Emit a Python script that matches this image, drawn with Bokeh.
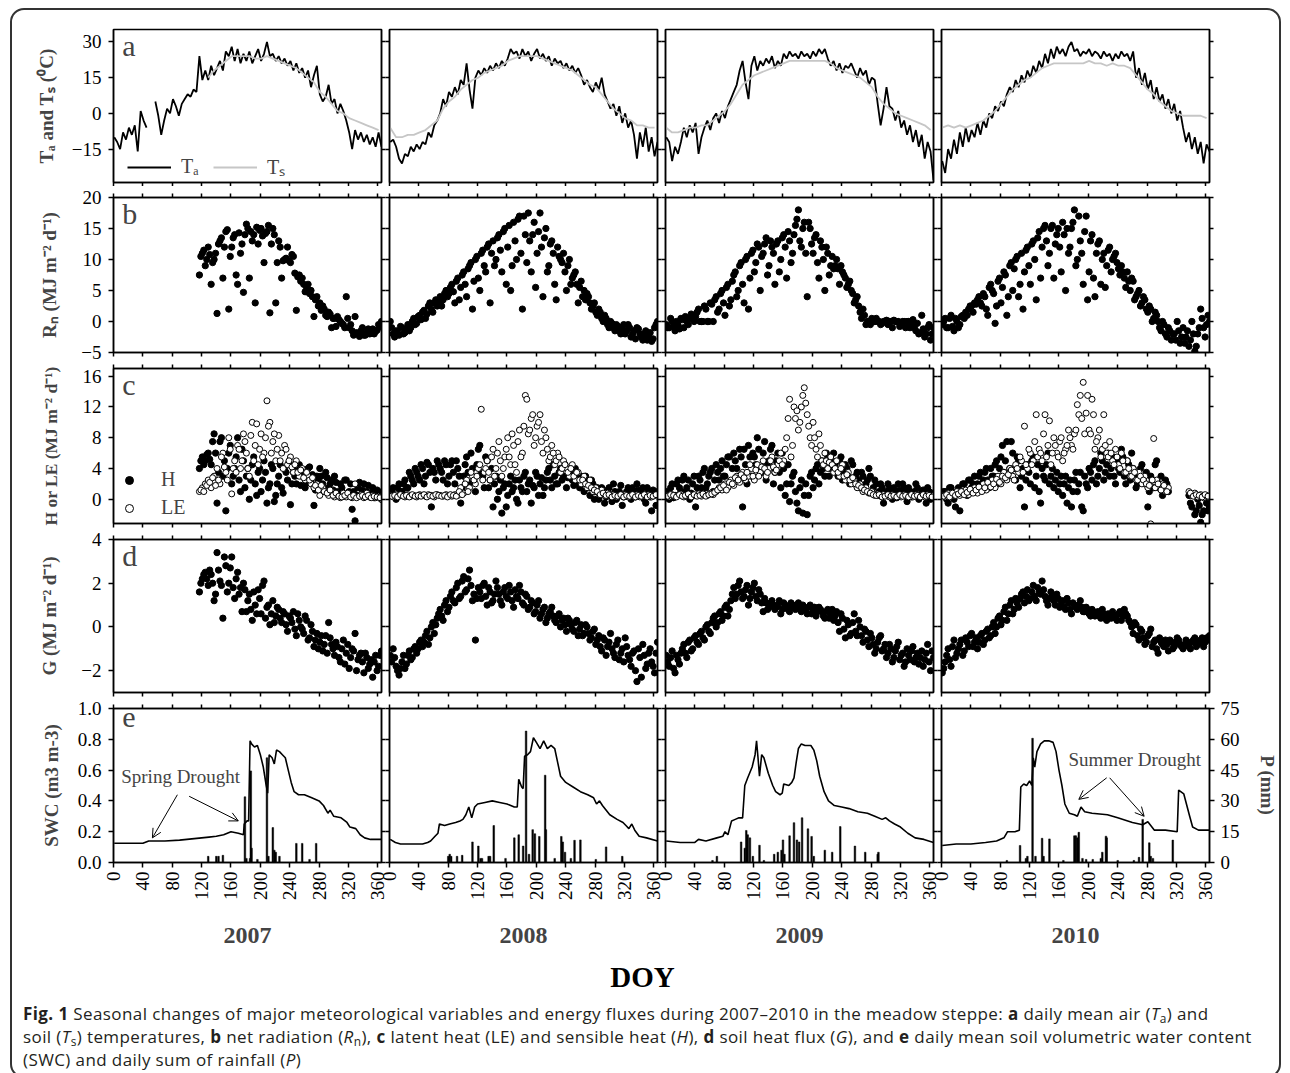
import math
from bokeh.plotting import figure
from bokeh.models import (Range1d, LinearAxis, FixedTicker, Label, Legend, LegendItem,
                          Arrow, OpenHead, Div, NumeralTickFormatter)
from bokeh.layouts import column, row
from bokeh.embed import file_html
from bokeh.resources import INLINE

nan = float("nan")
YEARS = ["2007", "2008", "2009", "2010"]
DOY_TICKS = [0, 40, 80, 120, 160, 200, 240, 280, 320, 360]
P_TICKS = [0, 15, 30, 45, 60, 75]

# ---- daily mean air temperature Ta (deg C), sampled every 4 days from DOY 1 ----
ta_2007 = [-10, -12, -15, -8, -11, -6, -9, -5, -16, 1, -3, -6, nan, nan, 5, -1, -9, -3, 2, 0,
           6, 3, -1, 4, 6, 8, 7, 10, 9, 24, 14, 18, 14, 20, 16, 19, 22, 18, 26, 24,
           28, 22, 27, 21, 25, 22, 26, 21, 24, 27, 22, 25, 30, 24, 25, 22, 24, 21, 23, 20,
           22, 18, 21, 17, 19, 15, 18, 11, 16, 20, 8, 5, 7, 12, 4, 6, 0, 4, 1, -3,
           -8, -15, -7, -11, -8, -12, -9, -13, -10, -14, -8, -14]
ta_2008 = [-12, -11, -14, -19, -21, -17, -18, -14, -16, -13, -15, -12, -13, -8, -10, -5, -3, 0, 6, 3,
           9, 7, 11, 8, 14, 12, 21, 10, 2, 15, 18, 16, 19, 17, 20, 18, 21, 19, 22, 20,
           23, 27, 25, 26, 23, 27, 24, 26, 22, 25, 27, 23, 25, 22, 24, 20, 23, 21, 22, 19,
           21, 18, 20, 17, 19, 16, 12, 14, 11, 9, 13, 10, 15, 8, 5, 2, 4, -1, 3, -4,
           0, -6, -3, -9, -19, -8, -14, -6, -16, -10, -18, -12]
ta_2009 = [-10, -12, -20, -14, -17, -12, -6, -10, -5, -8, -4, -17, -10, -6, -3, -7, -2, 0, -4, 1,
           -2, 3, 6, 9, 12, 18, 22, 13, 6, 20, 24, 18, 22, 20, 23, 21, 24, 19, 22, 20,
           25, 23, 26, 24, 25, 23, 26, 24, 25, 23, 26, 24, 27, 25, 27, 23, 20, 22, 18, 21,
           17, 20, 19, 21, 18, 15, 19, 16, 18, 12, 15, 14, 4, -5, 2, 11, 3, 2, -3, 1,
           -6, -3, -9, -5, -12, -7, -14, -9, -19, -12, -16, -28]
ta_2010 = [-20, -25, -15, -19, -11, -17, -8, -14, -6, -12, -7, -10, -4, -9, -3, -6, 0, -2, 3, 1,
           5, 3, 8, 11, 9, 14, 11, 16, 13, 18, 15, 20, 17, 22, 19, 25, 21, 27, 23, 28,
           25, 27, 24, 28, 30, 26, 27, 24, 26, 25, 27, 24, 26, 25, 23, 26, 24, 25, 22, 25,
           23, 26, 24, 25, 22, 26, 15, 19, 12, 17, 10, 14, 6, 11, 5, 8, 2, 6, 0, 4,
           -3, 1, -6, -12, -8, -15, -10, -17, -12, -21, -13, -16]

# ---- daily mean soil temperature Ts (deg C), sampled every 8 days from DOY 1 ----
ts_2007 = [nan] * 16 + [15, 18, 20, 22, 24, 24, 24, 24, 23, 23, 24, 23, 22, 21, 20, 19, 17, 15, 13, 9,
                        7, 4, 1, 0, -2, -3, -4, -5, -6, -7]
ts_2008 = [-6, -10, -10, -9, -9, -8, -7, -5, -3, 2, 5, 7, 10, 12, 14, 15, 17, 18, 19, 20,
           22, 23, 24, 24, 24, 24, 23, 22, 21, 20, 19, 18, 16, 14, 12, 11, 8, 5, 2, 0,
           -2, -3, -5, -5, -6, -6]
ts_2009 = [-6, -8, -8, -7, -6, -6, -5, -5, -3, -1, 1, 4, 8, 12, 14, 16, 17, 18, 19, 20,
           21, 22, 22, 22, 22, 22, 22, 22, 21, 19, 18, 17, 16, 15, 13, 11, 7, 4, 2, 0,
           -1, -2, -3, -4, -5, -7]
ts_2010 = [-6, -5, -6, -5, -6, -5, -4, -3, -1, 1, 4, 7, 10, 12, 14, 15, 17, 19, 20, 21,
           21, 21, 21, 21, 21, 22, 21, 21, 20, 21, 20, 20, 19, 16, 13, 10, 8, 5, 3, 1,
           0, -1, -1, -1, -1, -2]

# ---- fluxes (MJ m-2 d-1). Set "a": every 4 days from FLUX_START; set "b": offset by 2 days ----
FLUX_START = [117, 1, 1, 1]
rn_2007 = [7.5, 11, 9, 12, 6, 10, 1.3, 13, 7, 14.5, 2, 12, 14, 6, 11, 4.7, 15.7, 7, 13, 3,
           12.5, 15, 9.5, 14.5, 1.4, 15, 3, 13, 7, 10, 12, 9.5, 10.5, 1.8, 7.5, 7, 4.8, 6, 5, 0.8,
           4, 3, 2.5, 1, 1.5, -1, 0.5, 0.8, 0, -0.5, 4, -1, -1.5, 0.8, -2, -1.5, -2.2, -1.8, -2, -1.2,
           -1.6, -0.5, 0]
rn_2008 = [0, -2, -1.5, -2.2, -1, -1.8, -0.5, -1, 0.5, -0.3, 1, 1.5, 0.5, 2.5, 2, 3, 2.5, 4, 3.5, 5,
           4.5, 6, 3, 7, 5.5, 8, 4, 9, 2, 10, 7, 11, 9, 12, 3, 13, 10, 14, 8, 15,
           12, 5, 16, 10, 17, 2, 14, 17.5, 8, 16, 11, 17.5, 4, 15, 9, 13, 6, 12, 10, 11,
           5, 10, 7, 8, 3, 6.5, 5, 4.5, 3, 2.5, 1.5, 2, 0.5, 1, -0.5, 0, -1, -0.5, -1.5, -1,
           -2, -0.5, -2.5, -1.5, -1, -2, -3, -1.5, -2.5, -3.2, -1, 0]
rn_2009 = [-0.5, -1, 0, -1.5, -0.5, 0.5, -1, 0, 0.5, 1, 0.8, 2, 0, 2.5, 0, 3, 0, 4, 2, 5,
           1, 6, 3.5, 7.5, 4, 9, 6, 10, 2, 11, 8, 12.5, 5, 11, 13.5, 9, 12, 6, 13, 10,
           14, 7, 13, 11, 15.5, 18, 12, 16, 4, 15, 11, 14, 7, 12, 5, 11, 9, 8.5, 10, 6,
           8, 7, 6, 5, 3, 4, 1.5, 2, -0.5, 0, 0.5, 0, 0, -0.5, 0, 0.2, 0, -1, 0, 0,
           -0.5, 0, 0, -1, 0.3, -1.5, -2, 1, -2.5, -1, -3, -1]
rn_2010 = [-0.5, 0.5, -1, 1, -1.5, 0, -0.5, 1, 1.5, 2, 2.5, 3, 3.5, 3, 4.5, 2, 5.5, 5, -0.3, 6.5,
           3, 8, 1, 9, 5, 10, 4, 11, 8, 12, 6, 13, 3.5, 14.5, 12, 15.5, 9, 15, 7, 14,
           12, 16, 5, 11, 15, 18, 10, 13, 6, 17, 8, 14, 4, 12.5, 6, 11, 9, 12, 10, 11,
           8.5, 9, 7, 8, 5, 6.5, 4, 5, 3, 3.5, 1.5, 2, 0.5, 1, -1, 0, -2, -1, -3, -2,
           0, -3.5, -1, -2.5, -4, 0, -4.8, -2, 2, -1, -0.5, 0]
rnb_2007 = [10.5, 11.5, 10, 10.8, 9.5, 11, 12.5, 13.5, 12, 14.8, 10.5, 13.5, 7.5, 14.3, 12.5, 14, 15, 14.5, 14, 15.2,
            14.7, 13.8, 14.2, 15.5, 12.5, 14, 9.5, 12, 9.8, 10.2, 9.8, 10.8, 7.8, 7.2, 6.5, 6, 5.5, 4.5, 4, 3.5,
            2.5, 1.8, 2, 0.8, 1.2, 0.5, -0.8, 0.3, -0.3, -1, 0.5, -0.5, -2.2, -1.8, -2.4, -1, -2.2, -1.2, -1.8, -2,
            -1.4, -0.8]
rnb_2008 = [-1, -2.5, -1.8, -0.8, -2, -1.2, -1.5, 0, -0.5, 0.8, 0.3, 1.8, 1.2, 3, 1.5, 3.5, 3.2, 2.5, 4.5, 4,
            5.5, 4.8, 6.5, 3.5, 7.5, 6, 8.5, 9.5, 6.5, 10.5, 5, 11.5, 8, 12.5, 11, 9, 13.5, 11.5, 14.5, 6,
            15.5, 9, 13, 16.5, 11, 17, 9.5, 13, 14, 5.5, 14.5, 12, 13.5, 8, 12.5, 11, 3.5, 10.5, 9.5, 8,
            9, 6, 7.5, 6, 5.5, 4, 3.5, 4, 2, 3, 1, 1.5, 0, 0.5, -1, -0.3, -1.5, -0.8, -2, -0.5,
            -1.5, -1, -2, -2.8, -1.2, -2.5, -2, -3, -1.8, -2.8, -0.5]
rnb_2009 = [-1, 0.5, -0.8, 0, -1.2, 0.3, 0.8, -0.5, 1.2, 0, 1.5, 0, 0, 2, 0, 2.8, 3.5, 1.5, 4.5, 3,
            5.5, 2.5, 6.5, 8, 5, 9.5, 3, 10.5, 7, 11.5, 9.5, 12, 10.5, 12.5, 7.5, 13, 11, 12.5, 8, 13.5,
            12, 14.5, 9.5, 14, 16.5, 13, 15, 11, 16, 12.5, 13.5, 9.5, 13, 10, 12, 7.5, 10.5, 9, 8.5, 9,
            7.5, 5.5, 6.5, 4.5, 3.5, 2.5, 0.5, 1, 0, -0.5, 0, 0.5, 0, -0.3, 0, -0.5, 0, 0.2, 0, -0.8,
            0, -1, 0, -0.5, -1, -0.3, -1.8, -1.2, -2, -0.5, -2]
rnb_2010 = [0, -1, 0.5, -0.8, 0.5, -1, 0.8, 0.5, 1, 2.5, 1.5, 2.8, 4, 2.5, 4, 1, 6, 4.5, 2.5, 7,
            5.5, 7.5, 4, 9.5, 8.5, 10.5, 6, 2, 11.5, 9, 12.5, 10, 13.5, 7, 15, 13, 11, 15.5, 12.5, 15,
            8, 14, 15, 12, 16, 9, 17, 11, 14.5, 3.5, 13, 7, 11, 13, 10, 5.5, 11.5, 8, 10.5, 9.5,
            7.5, 8, 5.5, 6.5, 7, 3.5, 4.5, 2.5, 4, 2, 2.5, 0, 1.5, 0, -1.5, -0.5, -2.5, -1.5, -2, -3,
            -1.5, -2.5, -3.5, -1.5, -3, -2, -4, -1, 0.5, -2.5, 1]
h_2007 = [4, 5.5, 5, 6, 4.5, 8.5, -0.5, 7.5, 3, -1.5, 6, 2, 4, 8, 1, 5, 3, 0, 4.5, 2,
          3.5, 1, 5, -0.5, 2, 4, 0.5, 3, 1.5, 4, 2.5, -0.7, 3.5, 2, 4.5, 3, 1.5, 4, 2.5, -0.8,
          3, 4, 2, 3.5, 1.5, 2.5, 3, 1, 2, 0.5, 2.5, 1, -1.3, -2.8, 1.5, 0.5, 2, 1, 0.3, 1.5,
          0.5, 1, 0]
le_2007 = [1, 1.5, 2, 2.5, 1.5, 3, 4, 2, 6, 3.5, 8, 0.7, 5, 7, 4, 8.5, 6, 3, 10, 7,
           4.5, 8.5, 6, 12.8, 10, 7.5, 5, 8.3, 6, 7, 4.5, 5.5, 3.5, 5, 3, 4, 2.5, 3, 2, 1.5,
           2, 0.5, 1.5, 1, 0.5, 1, 0.3, 0.5, 0.2, 0.8, 0.3, 0.5, 0.2, 2, 0.3, 0.6, 0.2, 0.8, 0.3, 0.5,
           0.2, 0.4, 0]
h_2008 = [0.5, 1.5, 0, 2, 1, 2.5, 1.5, 3, 2, 3.5, 2.5, 4, 3, 4.5, -1, 3.5, 5, 4, 2.5, 4.5,
          3, 5, 2, 4, -0.5, 3, 5.5, 2, 4, 1, 6.5, 3.5, 1.5, 5, 2.5, -1, 3, 1, -1.8, 2,
          0.5, 3, 1.5, 0, 2.5, 1, 3.5, 2, -0.5, 1.5, 3, 2, 0.5, 2.5, 4, 1.5, 3, 2, 4, 3,
          1.5, 3.5, 2.5, 4, 2, 3, 1, 2.5, 0.5, 2, 1, 0, 1.5, -0.5, 1, 0.5, 2, 0, 1, -0.8,
          0.5, 1.5, 0, 1, 2, 0.5, 1.5, -0.5, 1, -1.5, 0.5, 1]
le_2008 = [0.5, 0.3, 0.6, 0.4, 0.5, 0.3, 0.6, 0.4, 0.5, 0.3, 0.6, 0.5, 0.4, 0.6, 0.5, 0.3, 0.6, 0.5, 0.4, 0.6,
           0.5, 0.4, 0.6, 0.5, 1.5, 0.8, 2.5, 1.5, 3, 2, 4, 11.7, 3.5, 5, 2.5, 6.5, 4, 7.5, 3, 5.5,
           8, 4.5, 7, 3.5, 9, 6, 13.5, 8.5, 10.5, 7, 9.5, 11, 6, 8, 5, 7, 4.5, 6, 3.5, 5,
           4, 3, 4.5, 2.5, 3.5, 2, 3, 1.5, 2.5, 1, 1.5, 0.8, 1.2, 0.5, 0.8, 0.4, 0.6, 0.3, 0.5, 0.4,
           0.6, 0.3, 0.5, 0.4, 0.6, 0.3, 0.5, 0.4, 0.6, 0.3, 0.5, 0.4]
h_2009 = [1, 0, 2, 0.5, 2.5, 1, 3, 1.5, 0, 2, -1, 3, 1.5, 4, 2, 3.5, 1, 4.5, 2.5, 5,
          3, 5.5, 2, 6, 4, 6.5, -1, 4.5, 7, 3, 5.5, 8, 4, 6, 2.5, 5, 7, 3.5, 6, 1.5,
          4, 2, -0.3, 3, 1, -1.5, 2.5, 0.5, -2, 3, 1.5, 4, 2, 5, 3, 5.5, 4, 6, 3.5, 5,
          2.5, 4.5, 3, 5, 2, 3.5, 1.5, 3, 2, 4, 1, 2.5, 0.5, 2, -0.5, 1, 1.5, 0, 1, 2,
          0.5, 1.5, -0.3, 1, 0.5, 2, 0, 1, 0.5, 1.5, 0, 0.5]
le_2009 = [0.5, 0.3, 0.6, 0.4, 0.5, 0.7, 0.3, 0.5, 0.6, 0.4, 0.5, 0.7, 0.4, 0.6, 0.5, 0.8, 0.6, 1, 1.5, 1.2,
           2, 1.5, 2.5, 1.8, 3, 2.2, 3.5, 2.5, 3, 4, 2.5, 4.5, 3.5, 5, 3, 4, 5.5, 3.5, 4.5, 6,
           5, 8, 13, 7, 10.5, 9, 12, 14.5, 11, 8, 10, 6.5, 8.5, 5, 6, 4, 5.5, 3.5, 5, 3,
           4.5, 2.5, 3.5, 2, 2.5, 1.5, 2, 1, 1.5, 0.8, 1, 0.5, 0.7, 0.4, 0.6, 0.5, 0.3, 0.6, 0.4, 0.5,
           0.3, 0.6, 0.4, 0.5, 0.3, 0.6, 0.4, 0.5, 0.3, 0.6, 0.4, 0.5]
h_2010 = [0.5, 1, -0.5, 1.5, 0, 1, -1.5, 2, 1, 2.5, 1.5, 3, 2, 3.5, 2.5, 4, 1.5, 3, 4.5, 2,
          5.5, 3.5, 7.5, 4, 6, 2.5, 5, 3, -1, 4.5, 2, 5.5, 3, 1, 4, 2.5, 6, 3, 1.5, 3.5,
          2, 0.5, 3, 1.5, -1, 2.5, 1, 3.5, -1.5, 2, 4, 2.5, 5, 3, 6, 2.5, 4.5, 3, 5.5, 2,
          4, 6.5, 3, 5, 2.5, 4, 1.5, 3, 4.5, 2, -1, 3, 1.5, 5, 2, 0.5, 2.5, 1, nan, nan,
          nan, nan, nan, nan, 0.5, -1, -2, 0, -3, -1.5, -0.5, -1]
le_2010 = [0.5, 0.3, 0.8, 0.4, 0.6, 1, 0.5, 0.8, 1.2, 0.6, 1, 1.5, 0.8, 1.3, 2, 1.2, 1.8, 2.5, 1.5, 3,
           2, 3.5, 2.5, 4, 3, 4.5, 3.5, 5, 9.5, 4, 6, 5, 11, 6.5, 5, 11, 7, 4.5, 8, 6,
           7.5, 5, 6.5, 9, 7, 8.5, 12.3, 13.5, 15.2, 11.2, 9, 13, 6.5, 8, 5.5, 11, 6, 7.5, 5, 6.5,
           4.5, 6, 3.5, 5, 3, 4, 2.5, 3.5, 2, 3, 1.5, -3.2, 7.9, 2.5, 1.5, 2, 1, 1.5, nan, nan,
           nan, nan, nan, nan, 1, 0.5, 0.8, 0.3, 0.6, 0.2, 0.5, 0.3]
hb_2007 = [5, 4.5, 5.8, 5.2, 7.5, 6, 3.5, 8, 5, 4, 7, 3, 5.5, 2.5, 6.5, 1.5, 4, 2.5, 5.5, 0.5,
           4, 2.5, 3.5, 1.5, 4.5, -0.3, 2, 4.5, 0.8, 3.5, 4.8, 2, 3, 4, 1.8, 3.5, 2.2, 4.2, 3.2, 1.2,
           2.5, 3, 1, 2.8, 2, 1.2, 2.2, 0.5, 1.5, 2.5, 0.8, 2, 1, 0.5, 2.2, 1.2, 0.5, 1.8, 0.8, 0.2,
           1.2, 0.5]
leb_2007 = [1.2, 1, 1.8, 2.2, 2.8, 1.8, 2.5, 5.5, 4.2, 2.5, 6.5, 4, 3.5, 6.5, 5, 7.5, 4, 8.3, 5, 9.8,
            6.5, 5.5, 8, 9.5, 6, 8.5, 6.5, 5, 4, 6.5, 5, 4.2, 4.5, 3.5, 3.8, 2.8, 3.5, 2.5, 2.8, 1.8,
            1.2, 1.8, 1, 0.8, 1.2, 0.5, 0.8, 0.4, 0.3, 0.5, 0.8, 0.3, 0.5, 0.2, 0.4, 0.5, 0.3, 0.5, 0.2, 0.4,
            0.3, 0.2]
hb_2008 = [1, 0.5, 1.5, 1, 2, 1.5, 3.5, 2.5, 4, 3, 4.5, 2, 4.8, 3.5, 4, 2.5, 4.5, 3.5, 5, 2,
           4.5, 3.5, 5, 3, 1.5, 4.5, 3.5, 6, 2.5, 4.5, 7, 3, 5.5, 1.5, 4, 2, 0, 2.5, 1.5, -1,
           2, 1, 2.5, -0.5, 1.5, 3, 1, 2.5, 1.8, 3.5, 0.5, 2.8, 1.5, 3.5, 2.5, 4.5, 2, 3.5, 2.5, 4.5,
           2.8, 3.5, 1.8, 3.2, 1.5, 2, 3, 1.5, 2.5, 0, 1.5, 0.5, 1.2, 0.3, 1.5, -0.3, 1, 0.5, 1.8, 0.3,
           1, 0.8, 1.5, 0.3, 1.2, 0.8, 0, 1.5, 0.3, 1.2, -0.8]
leb_2008 = [0.4, 0.5, 0.3, 0.6, 0.4, 0.5, 0.3, 0.6, 0.4, 0.5, 0.4, 0.6, 0.3, 0.5, 0.4, 0.6, 0.5, 0.4, 0.5, 0.3,
            0.6, 0.5, 0.4, 1, 0.6, 2, 1, 3.5, 2.5, 3, 4.5, 2.5, 4, 3.5, 5.5, 3, 6, 5, 4, 6.5,
            5.5, 8.5, 4.5, 7.5, 5.5, 9.5, 13, 9, 11, 8, 10, 7.5, 9, 6.5, 5.5, 6, 5, 5.5, 4, 4.5,
            3.5, 4, 3, 3.5, 2.5, 2.5, 2, 1.8, 1.5, 1.2, 1, 0.6, 0.8, 0.5, 0.6, 0.3, 0.5, 0.4, 0.6, 0.3,
            0.5, 0.4, 0.6, 0.3, 0.5, 0.4, 0.6, 0.3, 0.5, 0.4, 0.6]
hb_2009 = [0.5, 1.5, 0.2, 2, 1.5, 2.5, 1, 2.5, 0.8, 3, 1.5, 2.5, 3.5, 1.5, 3, 4, 2.5, 3.5, 4, 3,
           4.5, 5.5, 4, 5, 3, 5.5, 6.5, 2, 5.5, 6, 4.5, 6.5, 3.5, 7.5, 4.5, 6.5, 2, 5, 3.5, 6,
           0.5, 4.5, 2, 3.5, -0.5, 1.5, -1.8, 2, 0.5, 3.5, 2.5, 4.5, 3.5, 4, 6, 3, 5, 4.5, 3, 5.5,
           3.5, 4, 2, 4.5, 3, 2.5, 3.5, 1.5, 2.5, 3, 1.5, 2, 1, 1.5, 0.5, 2, 0.8, 1.5, 0.2, 1.2,
           2, 0.8, 1.5, 0.3, 1, 1.5, 0.5, 1.2, -0.5, 1, 0.8]
leb_2009 = [0.4, 0.6, 0.5, 0.3, 0.6, 0.4, 0.5, 0.7, 0.3, 0.6, 0.4, 0.5, 0.7, 0.4, 0.6, 0.7, 0.9, 1.2, 1.5, 1.8,
            1.2, 2.2, 2, 2.8, 2.5, 3.2, 2.8, 3.5, 4.5, 3, 3.8, 3, 4.2, 4, 3.5, 5, 4.2, 3.8, 5, 4.5,
            6.5, 10.5, 5.5, 12, 11.5, 10, 13.5, 12.5, 9.5, 7, 8, 5.5, 7, 4.5, 5, 4.8, 4.5, 4, 3.5, 4,
            3, 3.2, 2.5, 2.8, 2, 1.8, 1.5, 1.2, 1, 0.8, 0.6, 0.5, 0.6, 0.3, 0.4, 0.6, 0.4, 0.5, 0.3, 0.6,
            0.4, 0.5, 0.3, 0.6, 0.4, 0.5, 0.3, 0.6, 0.4, 0.5, 0.3]
hb_2010 = [1, 0, 1.5, 0.5, -1, 1.5, 1, 2, 0.5, 2.5, 2, 1.5, 3, 2, 3.5, 2.5, 4, 3, 5, 4,
           7, 5, 3, 7.5, 4, 5.5, 1.5, 4, 2.5, 3.5, 5, 1.5, 4.5, -0.5, 3, 4.5, 2, 4, 2.5, 1,
           3, 2, -0.5, 2.5, 1, 3.5, 2, -1, 3, 1.5, 3.5, 4.5, 2, 4, 5, 3.5, 6, 4, 3, 5,
           3.5, 5.5, 2, 4.5, 6, 3, 2, 4, 2.5, 3.5, 1, 2.5, 4.5, 1.5, 3, 1, 2, nan, nan, nan,
           nan, nan, nan, nan, -0.5, 0.5, -1.5, -0.8, -2, 0.3, -1.5]
leb_2010 = [0.4, 0.6, 0.3, 0.8, 0.5, 0.7, 1, 0.6, 0.9, 1.3, 0.8, 1.2, 1.6, 1, 1.5, 2.2, 1.6, 2, 2.6, 2.2,
            3, 2.8, 3.2, 3.8, 2.5, 4, 5.5, 3.5, 4.5, 6.5, 4.5, 7.5, 5.5, 6, 8.5, 5.5, 10.2, 6, 7, 5.5,
            8, 6, 7, 8, 6.5, 9, 11, 10.5, 8.5, 13.5, 8.5, 11, 7.5, 9, 6.5, 7, 5.5, 6, 4.5, 5.5,
            4, 5, 3.5, 4, 3, 3.5, 2.5, 3, 2.5, 2, 1.8, 2.5, 1.5, 2, 1.2, 1.8, 1, nan, nan, nan,
            nan, nan, nan, nan, 0.8, 0.4, 0.6, 0.5, 0.3, 0.6, 0.4]
g_2007 = [1.6, 2.2, 2.5, 1.9, 2.4, 1.2, 3.4, 2.1, 0.4, 2.8, 2.0, 3.2, 1.3, 2.5, 1.8, 2.0, 0.7, 1.5, 0.3, 1.0,
          1.7, 0.6, 2.1, 0.9, 0.1, 1.2, 0.5, 0.8, 0.2, 0.6, -0.2, 0.4, 0.7, -0.4, 0.3, -0.1, 0.5, -0.6, 0.1, -0.9,
          -0.3, -0.7, -1.1, -0.4, 0.2, -0.8, -1.3, -0.9, -1.6, -0.6, -1.2, -1.9, -1.0, -0.3, -1.5, -1.2, -2.1, -1.4, -1.7, -2.3,
          -1.3, -1.8, -1.1]
g_2008 = [-1.3, -1.0, -1.8, -2.2, -1.6, -1.9, -1.3, -1.5, -1.0, -1.2, -0.7, -0.9, -0.4, -0.8, 0.0, -0.3, 0.4, 0.8, 0.3, 1.2,
          0.9, 1.6, 1.1, 2.0, 1.4, 2.3, 1.7, 2.6, 1.2, -0.6, 1.8, 1.3, 2.0, 1.0, 1.6, 1.2, 2.1, 1.5, 1.0, 1.8,
          1.3, 1.6, 0.9, 1.4, 1.9, 1.1, 1.5, 0.8, 1.2, 0.6, 1.0, 0.4, 0.8, 0.2, 0.6, 0.9, 0.3, 0.5, 0.0, 0.4,
          -0.2, 0.3, -0.1, 0.2, -0.4, 0.1, -0.3, 0.0, -0.6, -0.2, -0.8, -0.4, -1.1, -0.6, -0.9, -0.3, -1.2, -0.8, -1.5, -1.0,
          -0.5, -1.3, -1.8, -1.1, -2.5, -1.4, -0.8, -1.9, -1.2, -1.6, -2.1, -0.7]
g_2009 = [-1.3, -1.8, -1.1, -2.1, -1.5, -1.2, -0.8, -1.4, -0.6, -1.0, -0.4, -0.8, -0.2, -0.6, 0.1, -0.3, 0.4, 0.0, 0.6, 0.3,
          0.9, 0.5, 1.2, 1.8, 1.5, 2.1, 1.3, 1.7, 1.0, 1.6, 2.0, 1.2, 1.5, 0.7, 1.1, 0.9, 1.2, 0.8, 1.0, 0.6,
          1.1, 0.9, 0.7, 1.0, 0.8, 1.1, 0.7, 0.9, 0.6, 1.0, 0.8, 0.5, 0.9, 0.7, 0.4, 0.8, 0.6, 0.3, 0.7, -0.2,
          0.4, -0.5, 0.1, -0.3, 0.6, -0.4, 0.0, -0.7, -0.2, -0.9, -0.5, -1.2, -0.7, -0.4, -1.0, -1.4, -0.8, -1.6, -1.1, -0.7,
          -1.3, -1.8, -1.0, -1.5, -0.9, -1.4, -1.7, -1.1, -1.5, -0.8, -2.0, -1.4]
g_2010 = [-2.1, -1.6, -1.0, -1.8, -0.6, -1.2, -0.8, -1.3, -0.5, -0.9, -0.3, -0.7, -1.0, -0.4, -0.8, -0.2, -0.5, 0.0, -0.3, 0.4,
          0.1, 0.7, 0.3, 1.0, 0.6, 1.3, 0.9, 1.5, 1.1, 1.7, 1.3, 1.9, 1.2, 1.6, 2.1, 1.4, 1.0, 1.6, 1.2, 1.5,
          0.9, 1.2, 0.8, 1.1, 0.6, 1.0, 0.8, 1.2, 0.7, 0.9, 0.6, 0.8, 0.5, 0.7, 0.4, 0.6, 0.3, 0.5, 0.7, 0.4,
          0.6, 0.3, 0.8, 0.5, 0.2, -0.3, 0.1, -0.6, -0.2, -0.8, -0.4, -0.1, -0.7, -1.0, -0.5, -0.8, -0.6, -1.1, -0.7, -0.9,
          -0.5, -0.8, -1.0, -0.6, -0.9, -0.7, -0.5, -0.8, -0.6, -0.9, -0.5, -0.4]
gb_2007 = [2, 2.4, 2.2, 2.6, 2, 1.5, 2.6, 1.9, 3.2, 1.6, 2.7, 1.8, 2.2, 1.5, 0.7, 1.7, 1.2, 0.8, 1.6, 0.6,
           1.3, 1.9, 0.4, 1, 0.6, 0.2, 0.9, 0.4, 0.7, 0.1, 0.5, 0.2, -0.1, 0.6, 0, -0.3, 0.3, -0.5, -0.2, -0.6,
           -1, -0.4, -0.8, -1.2, -0.5, -1, -0.7, -1.4, -1, -1.7, -0.8, -1.4, -1.1, -2, -1.3, -1.6, -1.2, -1.9, -1.5, -1.6,
           -2, -1.3]
gb_2008 = [-1.6, -1.4, -2, -1.9, -1.3, -1.7, -1.1, -1.4, -0.9, -1, -0.6, -0.7, -0.2, -0.5, 0.2, 0.1, 0.6, 0.5, 1, 0.7,
           1.4, 1.2, 1.8, 1.3, 2.1, 1.6, 2.2, 1.9, 1.5, 1.3, 1.6, 1.9, 1.4, 1.8, 1.1, 1.5, 1.8, 1.2, 1.6, 1.4,
           1.9, 1.2, 1.7, 1.3, 1.6, 1, 1.4, 0.9, 1.1, 0.7, 1.2, 0.6, 0.9, 0.4, 0.7, 0.5, 0.2, 0.6, 0.3, 0.1,
           0.4, 0.1, -0.2, 0.3, -0.1, -0.4, 0.1, -0.3, -0.5, -0.1, -0.6, -0.9, -0.5, -1.3, -0.7, -1, -1.4, -0.6, -1.2, -1.6,
           -0.9, -1.5, -1.2, -2, -1, -2.3, -1.3, -1.7, -1, -1.8, -1.2]
gb_2009 = [-1.6, -1.4, -1.9, -1.3, -1.7, -1, -1.2, -0.7, -1.1, -0.5, -0.7, -0.3, -0.5, 0, -0.2, 0.2, 0.5, 0.2, 0.7, 0.5,
           1, 0.8, 1.5, 1.3, 1.9, 1.6, 1.4, 1.9, 1.3, 1.8, 1.4, 1.7, 1.1, 1.3, 0.8, 1.1, 1, 0.9, 1.2, 0.8,
           1, 0.8, 1.1, 0.9, 1, 0.8, 1, 0.8, 0.9, 0.6, 0.9, 0.7, 0.8, 0.5, 0.7, 0.4, 0.8, 0.5, 0.2, 0.6,
           -0.1, 0.3, -0.4, 0.2, -0.2, 0.3, -0.4, -0.1, -0.6, -0.3, -0.8, -1, -0.5, -1.1, -0.8, -1.2, -1, -1.4, -0.9, -1.5,
           -1.2, -1.6, -1.3, -1.1, -1.6, -1.2, -1.4, -1.8, -1.2, -1.6, -1.1]
gb_2010 = [-1.9, -1.3, -1.5, -0.9, -1.4, -1, -0.6, -1.1, -0.7, -0.4, -0.9, -0.5, -0.7, -0.3, -0.6, -0.1, -0.4, 0.2, 0, 0.5,
           0.3, 0.9, 0.6, 1.2, 0.8, 1.1, 1.3, 1.6, 1.4, 1.2, 1.6, 1.4, 1.8, 1.5, 1.7, 1.2, 1.3, 1.4, 1, 1.3,
           1.1, 0.9, 1.3, 0.8, 1.1, 0.9, 1, 0.9, 0.7, 0.8, 0.5, 0.7, 0.6, 0.5, 0.8, 0.4, 0.6, 0.4, 0.5, 0.3,
           0.7, 0.5, 0.6, 0.3, 0, 0.2, -0.4, -0.1, -0.5, -0.7, -0.3, -0.9, -0.6, -1.2, -0.7, -0.9, -0.8, -0.6, -1, -0.7,
           -0.6, -0.9, -0.8, -0.7, -1, -0.6, -0.9, -0.7, -0.5, -0.7, -0.6]

# ---- soil water content (m3 m-3): (DOY, value) ----
swc_2007 = [(1, 0.125), (20, 0.125), (40, 0.125), (48, 0.14), (70, 0.14), (90, 0.145), (100, 0.15), (120, 0.16),
            (130, 0.165), (140, 0.17), (150, 0.18), (160, 0.2), (170, 0.19), (177, 0.18), (178, 0.25), (182, 0.27),
            (184, 0.27), (186, 0.79), (188, 0.77), (192, 0.75), (196, 0.76), (200, 0.70), (204, 0.62), (208, 0.50),
            (210, 0.45), (212, 0.70), (216, 0.68), (219, 0.64), (222, 0.73), (226, 0.72), (230, 0.70), (234, 0.68),
            (238, 0.60), (242, 0.52), (246, 0.46), (252, 0.44), (260, 0.44), (270, 0.42), (280, 0.40), (286, 0.37),
            (292, 0.32), (295, 0.34), (300, 0.30), (310, 0.29), (318, 0.26), (322, 0.23), (330, 0.22), (336, 0.18),
            (342, 0.16), (350, 0.15), (365, 0.15)]
swc_2008 = [(1, 0.15), (8, 0.13), (15, 0.12), (30, 0.12), (45, 0.12), (52, 0.13), (56, 0.14), (62, 0.17),
            (66, 0.19), (68, 0.25), (75, 0.24), (82, 0.25), (90, 0.26), (96, 0.27), (100, 0.28), (104, 0.31),
            (108, 0.36), (112, 0.29), (116, 0.36), (120, 0.38), (130, 0.39), (140, 0.40), (150, 0.39), (160, 0.38),
            (170, 0.36), (174, 0.36), (176, 0.54), (180, 0.49), (182, 0.48), (184, 0.69), (188, 0.70), (192, 0.72),
            (196, 0.81), (200, 0.78), (205, 0.74), (210, 0.79), (215, 0.74), (220, 0.76), (225, 0.74), (229, 0.65),
            (233, 0.56), (240, 0.52), (250, 0.49), (260, 0.46), (270, 0.44), (278, 0.42), (282, 0.38), (286, 0.40),
            (290, 0.37), (300, 0.31), (310, 0.28), (318, 0.26), (322, 0.24), (326, 0.22), (330, 0.25), (334, 0.21),
            (340, 0.17), (350, 0.16), (365, 0.14)]
swc_2009 = [(1, 0.14), (20, 0.13), (40, 0.13), (45, 0.15), (55, 0.14), (70, 0.16), (78, 0.17), (81, 0.20),
            (85, 0.18), (90, 0.27), (95, 0.28), (100, 0.29), (105, 0.29), (108, 0.50), (112, 0.55), (118, 0.62),
            (122, 0.70), (124, 0.79), (126, 0.68), (128, 0.56), (131, 0.70), (134, 0.68), (140, 0.58), (146, 0.50),
            (150, 0.46), (156, 0.44), (159, 0.45), (161, 0.51), (168, 0.50), (172, 0.52), (175, 0.55), (178, 0.65),
            (181, 0.74), (185, 0.77), (190, 0.76), (198, 0.76), (202, 0.73), (206, 0.66), (210, 0.56), (216, 0.46),
            (222, 0.40), (230, 0.37), (240, 0.36), (250, 0.35), (262, 0.33), (275, 0.32), (285, 0.30), (295, 0.28),
            (300, 0.29), (305, 0.27), (312, 0.25), (320, 0.23), (330, 0.19), (340, 0.16), (352, 0.15), (365, 0.13)]
swc_2010 = [(1, 0.11), (20, 0.12), (40, 0.12), (60, 0.13), (75, 0.14), (85, 0.16), (90, 0.20), (100, 0.20),
            (106, 0.21), (108, 0.49), (112, 0.51), (116, 0.50), (120, 0.53), (123, 0.50), (125, 0.68), (127, 0.62),
            (130, 0.72), (135, 0.77), (140, 0.79), (146, 0.79), (152, 0.78), (156, 0.72), (160, 0.60), (164, 0.50),
            (168, 0.38), (174, 0.32), (181, 0.31), (185, 0.30), (190, 0.36), (195, 0.33), (205, 0.32), (226, 0.31),
            (240, 0.29), (260, 0.26), (274, 0.245), (281, 0.265), (290, 0.21), (305, 0.21), (321, 0.20), (323, 0.47),
            (330, 0.445), (338, 0.30), (342, 0.23), (350, 0.21), (365, 0.21)]

# ---- daily rainfall P (mm): (DOY, mm) ----
p_2007 = [(129, 3), (140, 3), (143, 3), (149, 3.5), (179, 32), (181, 2), (186, 2), (187, 44.6), (188, 7),
          (196, 1.5), (209, 51), (211, 3), (217, 17), (219, 6), (221, 5), (226, 3), (249, 9.3), (257, 9.3),
          (267, 1.5), (276, 9.3)]
p_2008 = [(80, 3), (82, 4), (84, 3), (92, 3), (99, 3.5), (113, 10), (121, 8), (124, 2), (126, 2), (135, 3),
          (137, 3), (142, 18), (158, 2), (170, 12), (176, 13.5), (182, 8), (186, 64), (190, 4), (195, 16),
          (198, 14), (204, 12.7), (212, 42.5), (213, 16), (225, 2), (234, 12.7), (236, 10), (239, 5), (247, 2),
          (252, 10.8), (260, 11), (281, 1.5), (295, 7.6), (317, 3)]
p_2009 = [(64, 1), (70, 3), (103, 10), (108, 7), (110, 15.6), (112, 13.5), (115, 12), (119, 3), (128, 8.4),
          (134, 1), (148, 4), (153, 5), (158, 6), (160, 11), (162, 4), (169, 13), (175, 19.4), (179, 11),
          (182, 10), (186, 21.8), (194, 16.4), (199, 12.7), (202, 3), (217, 6), (227, 5), (238, 17.5), (258, 8),
          (272, 5), (289, 4), (290, 5)]
p_2010 = [(89, 1), (107, 8.3), (115, 2), (117, 3), (124, 60.5), (128, 3), (137, 11.8), (139, 3), (147, 11.5),
          (166, 1), (181, 13), (183, 13), (185, 12), (187, 14.7), (192, 2), (197, 1.5), (206, 1.5), (217, 2),
          (219, 5), (224, 12.8), (225, 12), (240, 1), (262, 1), (269, 2.5), (274, 21), (283, 9.6), (285, 3),
          (288, 2), (315, 10.9)]

TA = [ta_2007, ta_2008, ta_2009, ta_2010]
TS = [ts_2007, ts_2008, ts_2009, ts_2010]
RN = [rn_2007, rn_2008, rn_2009, rn_2010]
RNB = [rnb_2007, rnb_2008, rnb_2009, rnb_2010]
HH = [h_2007, h_2008, h_2009, h_2010]
HHB = [hb_2007, hb_2008, hb_2009, hb_2010]
LE = [le_2007, le_2008, le_2009, le_2010]
LEB = [leb_2007, leb_2008, leb_2009, leb_2010]
GG = [g_2007, g_2008, g_2009, g_2010]
GGB = [gb_2007, gb_2008, gb_2009, gb_2010]
SWC = [swc_2007, swc_2008, swc_2009, swc_2010]
PP = [p_2007, p_2008, p_2009, p_2010]


def grid_days(start, step, n):
    return [start + step * i for i in range(n)]


def two_sets(start, a, b):
    xs = grid_days(start, 4, len(a)) + grid_days(start + 2, 4, len(b))
    return xs, list(a) + list(b)


SERIF = "Liberation Serif"
ROW_Y = [(-29, 35.2), (-5, 20), (-3.15, 17), (-3, 4), (0, 1)]
ROW_TICKS = [[-15, 0, 15, 30], [-5, 0, 5, 10, 15, 20], [0, 4, 8, 12, 16], [-2, 0, 2, 4],
             [0, 0.2, 0.4, 0.6, 0.8, 1.0]]
ROW_LABELS = ["Tₐ and Tₛ (⁰C)", "Rₙ (MJ m⁻² d⁻¹)", "H or LE (MJ m⁻² d⁻¹)", "G (MJ m⁻² d⁻¹)", "SWC (m3 m-3)"]
ROW_LABEL_SIZE = ["19px", "19px", "17.5px", "19px", "19px"]
ROW_LABEL_STANDOFF = [12, 18, 19, 18, 13]
FRAME_H = [153, 155, 155, 153, 154]
TOP_B = [19, 11, 5, 11, 11]
BOT_B = [4, 11, 5, 5, 92]
FRAME_W = 268
# wide side borders keep the rotated DOY tick labels inside their own figure;
# negative left margins let neighbouring figures overlap so the frames stay 8 px apart
LEFT_B = [101, 15, 15, 15]
RIGHT_B = [12, 12, 12, 74]
SHIFT_L = [0, -19, -19, -19]
LETTERS = "abcde"
MS = 6.3


def style_axis(ax, show_labels, tick_out):
    ax.axis_line_width = 1.5
    ax.axis_line_color = "black"
    ax.major_tick_line_width = 1.5
    ax.major_tick_line_color = "black"
    ax.major_tick_in = 0
    ax.major_tick_out = tick_out
    ax.minor_tick_in = 0
    ax.minor_tick_out = 0
    ax.minor_tick_line_color = None
    if show_labels:
        ax.major_label_text_font = SERIF
        ax.major_label_text_font_size = "19px"
        ax.major_label_text_color = "black"
    else:
        ax.major_label_text_color = None
        ax.major_label_text_font_size = "0px"
        ax.major_label_standoff = 0


total_w = sum(LEFT_B) + 4 * FRAME_W + sum(RIGHT_B) + sum(SHIFT_L)

rows = []
for r in range(5):
    row_figs = []
    for c in range(4):
        p = figure(width=LEFT_B[c] + FRAME_W + RIGHT_B[c], height=TOP_B[r] + FRAME_H[r] + BOT_B[r],
                   x_range=Range1d(0, 365), y_range=Range1d(*ROW_Y[r]),
                   x_axis_location=None, y_axis_location=None,
                   output_backend="svg", toolbar_location=None,
                   min_border_left=LEFT_B[c], min_border_right=RIGHT_B[c],
                   min_border_top=TOP_B[r], min_border_bottom=BOT_B[r],
                   styles={"margin-left": "%dpx" % SHIFT_L[c], "flex": "0 0 auto"})
        p.outline_line_color = "black"
        p.outline_line_width = 1.5
        p.background_fill_color = "white"
        p.border_fill_alpha = 0
        p.grid.grid_line_color = None
        p.grid.visible = False

        # left axis
        la = LinearAxis(ticker=FixedTicker(ticks=ROW_TICKS[r]))
        style_axis(la, c == 0, 5 if c == 0 else 4)
        if r == 4:
            la.formatter = NumeralTickFormatter(format="0.0")
        if c == 0:
            la.major_label_standoff = 7
            la.axis_label = ROW_LABELS[r]
            la.axis_label_text_font = SERIF
            la.axis_label_text_font_style = "bold"
            la.axis_label_text_font_size = ROW_LABEL_SIZE[r]
            la.axis_label_standoff = ROW_LABEL_STANDOFF[r]
        p.add_layout(la, "left")

        # right axis
        if r == 4:
            p.extra_y_ranges = {"p": Range1d(0, 75)}
        if r == 4 and c == 3:
            ra = LinearAxis(y_range_name="p", ticker=FixedTicker(ticks=P_TICKS))
            style_axis(ra, True, 5)
            ra.major_label_standoff = 6
            ra.axis_label = "P (mm)"
            ra.axis_label_text_font = SERIF
            ra.axis_label_text_font_style = "bold"
            ra.axis_label_text_font_size = "19px"
            ra.axis_label_standoff = 14
        else:
            ra = LinearAxis(ticker=FixedTicker(ticks=ROW_TICKS[r]))
            style_axis(ra, False, 4)
        p.add_layout(ra, "right")

        # top axis (ticks only)
        if r > 0:
            ta_ax = LinearAxis(ticker=FixedTicker(ticks=DOY_TICKS))
            style_axis(ta_ax, False, 4)
            p.add_layout(ta_ax, "above")

        # bottom axis
        ba = LinearAxis(ticker=FixedTicker(ticks=DOY_TICKS))
        if r == 4:
            style_axis(ba, True, 5)
            ba.major_label_text_font_size = "19px"
            ba.major_label_orientation = math.pi / 2
            ba.major_label_standoff = 4
            ba.axis_label = YEARS[c]
            ba.axis_label_text_font = SERIF
            ba.axis_label_text_font_style = "bold"
            ba.axis_label_text_font_size = "24px"
            ba.axis_label_standoff = 25
        else:
            style_axis(ba, False, 4)
        p.add_layout(ba, "below")

        fs = FLUX_START[c]
        if r == 0:
            d4 = grid_days(1, 4, len(TA[c]))
            d8 = grid_days(1, 8, len(TS[c]))
            r_ta = p.line(d4, TA[c], line_color="black", line_width=1.8)
            r_ts = p.line(d8, TS[c], line_color="#c6c6c6", line_width=1.8)
            if c == 0:
                leg = Legend(items=[LegendItem(label="Tₐ", renderers=[r_ta]),
                                    LegendItem(label="Tₛ", renderers=[r_ts])],
                             orientation="horizontal", location=(14, 2),
                             border_line_color=None, background_fill_alpha=0,
                             label_text_font=SERIF, label_text_font_size="20px",
                             glyph_width=44, glyph_height=20, label_standoff=10,
                             spacing=12, padding=0, margin=0)
                p.add_layout(leg)
        elif r == 1:
            xs, ys = two_sets(fs, RN[c], RNB[c])
            p.scatter(xs, ys, size=MS, marker="circle", fill_color="black", line_color="black")
        elif r == 2:
            xs, ys = two_sets(fs, HH[c], HHB[c])
            r_h = p.scatter(xs, ys, size=MS, marker="circle", fill_color="black", line_color="black")
            xs, ys = two_sets(fs, LE[c], LEB[c])
            r_le = p.scatter(xs, ys, size=6, marker="circle", fill_color="white", line_color="black",
                             line_width=1)
            if c == 0:
                leg = Legend(items=[LegendItem(label="H", renderers=[r_h]),
                                    LegendItem(label="LE", renderers=[r_le])],
                             orientation="vertical", location=(6, 4),
                             border_line_color=None, background_fill_alpha=0,
                             label_text_font=SERIF, label_text_font_size="20px",
                             glyph_width=20, glyph_height=20, label_height=20, label_standoff=22,
                             spacing=5, padding=0, margin=0)
                p.add_layout(leg)
        elif r == 3:
            xs, ys = two_sets(fs, GG[c], GGB[c])
            p.scatter(xs, ys, size=MS, marker="circle", fill_color="black", line_color="black")
        else:
            sd = [d for d, v in SWC[c]]
            sv = [v for d, v in SWC[c]]
            p.line(sd, sv, line_color="black", line_width=1.6)
            pd_ = [d for d, v in PP[c]]
            pv = [v for d, v in PP[c]]
            p.vbar(x=pd_, top=pv, bottom=0, width=2.2, y_range_name="p",
                   fill_color="black", line_color="black", line_width=0.5)
            if c == 0:
                p.add_layout(Label(x=10.5, y=0.49, text="Spring Drought", text_font=SERIF,
                                   text_font_size="19px", text_baseline="bottom", text_align="left"))
                p.add_layout(Arrow(end=OpenHead(size=9, line_width=1), line_width=1,
                                   x_start=87, y_start=0.44, x_end=53, y_end=0.16))
                p.add_layout(Arrow(end=OpenHead(size=9, line_width=1), line_width=1,
                                   x_start=103, y_start=0.43, x_end=170, y_end=0.27))
            if c == 3:
                p.add_layout(Label(x=173, y=0.60, text="Summer Drought", text_font=SERIF,
                                   text_font_size="19px", text_baseline="bottom", text_align="left"))
                p.add_layout(Arrow(end=OpenHead(size=9, line_width=1), line_width=1,
                                   x_start=225, y_start=0.55, x_end=187, y_end=0.41))
                p.add_layout(Arrow(end=OpenHead(size=9, line_width=1), line_width=1,
                                   x_start=229, y_start=0.55, x_end=276, y_end=0.30))

        if c == 0:
            p.add_layout(Label(x=12, y=ROW_Y[r][1], y_offset=1, text=LETTERS[r], text_font=SERIF,
                               text_font_size="30px", text_baseline="top", text_align="left"))
        row_figs.append(p)
    rows.append(row(*row_figs, spacing=0, width=total_w,
                    height=TOP_B[r] + FRAME_H[r] + BOT_B[r]))

grid = column(*rows, spacing=0, width=total_w)

doy = Div(text=('<div style="width:%dpx;box-sizing:border-box;padding-right:20px;text-align:center;'
                'font-family:\'Liberation Serif\';font-weight:bold;font-size:29px;line-height:36px;">DOY</div>'
                % total_w), width=total_w, height=36)
SUB = '<sub style="font-size:70%;line-height:0;vertical-align:-0.25em;">'
cap_html = (
    '<div style="font-family:\'Open Sans\';font-size:17px;letter-spacing:0.4px;line-height:23px;'
    'white-space:nowrap;padding-left:6px;margin-top:-3px;color:#231f20;">'
    '<b>Fig. 1</b> Seasonal changes of major meteorological variables and energy fluxes during 2007–2010 '
    'in the meadow steppe: <b>a</b> daily mean air (<i>T</i>' + SUB + 'a</sub>) and<br>'
    'soil (<i>T</i>' + SUB + 's</sub>) temperatures, <b>b</b> net radiation (<i>R</i>' + SUB + 'n</sub>), '
    '<b>c</b> latent heat (LE) and sensible heat (<i>H</i>), <b>d</b> soil heat flux (<i>G</i>), '
    'and <b>e</b> daily mean soil volumetric water content<br>'
    '(SWC) and daily sum of rainfall (<i>P</i>)</div>')
cap = Div(text=cap_html, width=total_w, height=66)

layout = column(grid, doy, cap, width=total_w,
                styles={"border": "2px solid #333", "border-radius": "14px", "background": "white",
                        "margin-left": "10px", "margin-top": "8px"})

open("out.html", "w").write(file_html(layout, INLINE))
